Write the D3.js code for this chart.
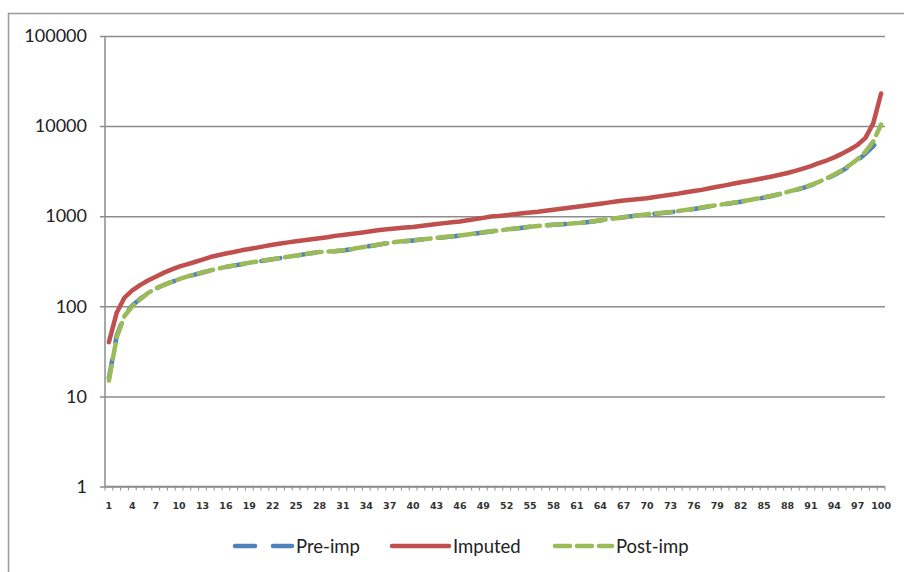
<!DOCTYPE html>
<html>
<head>
<meta charset="utf-8">
<script src="https://cdn.jsdelivr.net/npm/d3@7/dist/d3.min.js"></script>
<style>
  html, body { margin: 0; padding: 0; background: #fff; }
  svg { display: block; }
</style>
</head>
<body>
<div id="chart"></div>
<script>
// Percentile positions along the x axis
const categories = d3.range(1, 101);

// Value at each percentile, log scale
const preImp = [
  16, 47, 80, 102, 121, 140, 157, 172, 186, 199,
  212, 225, 237, 249, 261, 273, 283, 293, 303, 313,
  323, 333, 343, 354, 365, 377, 389, 399, 404, 409,
  417, 429, 444, 459, 474, 490, 506, 518, 528, 538,
  550, 561, 573, 585, 596, 608, 626, 643, 660, 678,
  693, 710, 726, 743, 762, 777, 790, 803, 813, 823,
  836, 852, 872, 897, 922, 947, 972, 997, 1022, 1046,
  1066, 1086, 1106, 1136, 1170, 1205, 1244, 1284, 1324, 1364,
  1404, 1448, 1497, 1550, 1610, 1678, 1756, 1845, 1945, 2060,
  2200, 2375, 2590, 2860, 3200, 3620, 4180, 4950, 6000, 7500
];

const imputed = [
  40, 85, 125, 150, 172, 193, 213, 235, 255, 275,
  292, 310, 330, 352, 368, 385, 400, 418, 432, 448,
  465, 482, 498, 512, 528, 542, 556, 570, 584, 605,
  620, 635, 650, 668, 688, 708, 722, 735, 748, 760,
  780, 800, 820, 838, 855, 875, 900, 928, 958, 990,
  1005, 1025, 1050, 1080, 1100, 1120, 1148, 1180, 1210, 1240,
  1270, 1305, 1340, 1375, 1415, 1455, 1490, 1520, 1550, 1585,
  1630, 1680, 1730, 1780, 1840, 1900, 1960, 2040, 2120, 2200,
  2290, 2380, 2460, 2550, 2650, 2760, 2880, 3020, 3180, 3380,
  3600, 3880, 4150, 4500, 4950, 5500, 6200, 7400, 10800, 23000
];

const postImp = [
  15, 45, 78, 100, 120, 140, 158, 172, 186, 200,
  213, 226, 238, 250, 262, 274, 284, 294, 304, 314,
  324, 334, 344, 355, 366, 378, 390, 400, 405, 410,
  418, 430, 445, 460, 475, 492, 508, 520, 530, 540,
  552, 563, 575, 587, 598, 610, 628, 645, 662, 680,
  695, 712, 728, 745, 765, 780, 792, 805, 815, 825,
  838, 855, 875, 900, 925, 950, 975, 1000, 1025, 1050,
  1070, 1090, 1110, 1140, 1175, 1210, 1250, 1290, 1330, 1370,
  1410, 1455, 1505, 1560, 1620, 1690, 1770, 1860, 1960, 2080,
  2220, 2400, 2620, 2900, 3250, 3700, 4300, 5200, 6800, 10400
];

const yTickValues = [1, 10, 100, 1000, 10000, 100000];
const xTickLabels = categories.filter((d, i) => i % 3 === 0);

const seriesNames = ["Pre-imp", "Imputed", "Post-imp"];
const seriesColors = ["#4F81BD", "#C0504D", "#9BBB59"];
const seriesDash = ["19,17", null, "15,7"];
const seriesValues = [preImp, imputed, postImp];

const W = 904, H = 572;
const plotLeft = 105, plotRight = 885, plotTop = 36, plotBottom = 486.5;
const gridColor = "#8c8c8c";

const svg = d3.select("#chart").append("svg")
  .attr("width", W).attr("height", H);

// chart frame
svg.append("rect")
  .attr("x", 8.5).attr("y", 13.5)
  .attr("width", W + 20).attr("height", H + 20)
  .attr("fill", "none").attr("stroke", "#9a9a9a").attr("stroke-width", 1.5);

const x = d3.scaleBand().domain(categories).range([plotLeft, plotRight]);
const y = d3.scaleLog().domain([1, 100000]).range([plotBottom, plotTop]);

// horizontal gridlines with the y axis labels
const yAxis = d3.axisLeft(y)
  .tickValues(yTickValues)
  .tickFormat(d3.format("d"))
  .tickSize(-(plotRight - plotLeft))
  .tickSizeOuter(0)
  .tickPadding(18);

const gy = svg.append("g").attr("transform", `translate(${plotLeft},0)`).call(yAxis);
gy.select(".domain").remove();
gy.selectAll(".tick line")
  .attr("x1", -5)
  .attr("stroke", gridColor).attr("stroke-width", 1.5);
gy.selectAll(".tick text")
  .attr("font-family", "Lato, 'Liberation Sans', sans-serif")
  .attr("font-size", 18).attr("fill", "#222");

// vertical axis line
svg.append("line")
  .attr("x1", plotLeft).attr("x2", plotLeft)
  .attr("y1", y(100000)).attr("y2", plotBottom)
  .attr("stroke", gridColor).attr("stroke-width", 1.5);

// x axis: line, boundary ticks and every third label
svg.append("line")
  .attr("x1", plotLeft).attr("x2", plotRight)
  .attr("y1", plotBottom).attr("y2", plotBottom)
  .attr("stroke", gridColor).attr("stroke-width", 1.5);

const boundaries = categories.map(c => x(c)).concat([x(categories[categories.length - 1]) + x.bandwidth()]);
svg.append("g").selectAll("line").data(boundaries).join("line")
  .attr("x1", d => d).attr("x2", d => d)
  .attr("y1", plotBottom).attr("y2", plotBottom + 4)
  .attr("stroke", gridColor).attr("stroke-width", 1);

svg.append("g").selectAll("text").data(xTickLabels).join("text")
  .attr("x", d => x(d) + x.bandwidth() / 2)
  .attr("y", plotBottom + 22)
  .attr("text-anchor", "middle")
  .attr("font-family", "'DejaVu Sans', sans-serif")
  .attr("font-size", 9.5)
  .attr("font-weight", "bold")
  .attr("fill", "#333")
  .text(d => d);

// series lines
const line = d3.line()
  .x((d, i) => x(categories[i]) + x.bandwidth() / 2)
  .y(d => y(d))
  .curve(d3.curveLinear);

seriesValues.forEach((vals, k) => {
  svg.append("path")
    .datum(vals)
    .attr("d", line)
    .attr("fill", "none")
    .attr("stroke", seriesColors[k])
    .attr("stroke-width", 4.5)
    .attr("stroke-linejoin", "round")
    .attr("stroke-dasharray", seriesDash[k])
    .attr("stroke-linecap", "round");
});

// legend
const legendX = [235, 392, 555];
const legendY = 546;
const lg = svg.append("g");
seriesNames.forEach((name, k) => {
  lg.append("line")
    .attr("x1", legendX[k]).attr("x2", legendX[k] + 57)
    .attr("y1", legendY).attr("y2", legendY)
    .attr("stroke", seriesColors[k])
    .attr("stroke-width", 4.5)
    .attr("stroke-dasharray", k === 0 ? "20,18" : seriesDash[k])
    .attr("stroke-linecap", "round");
  lg.append("text")
    .attr("x", legendX[k] + 61)
    .attr("y", legendY + 6.5)
    .attr("font-family", "Lato, 'Liberation Sans', sans-serif")
    .attr("font-size", 18.5)
    .attr("fill", "#222")
    .text(name);
});
</script>
</body>
</html>
